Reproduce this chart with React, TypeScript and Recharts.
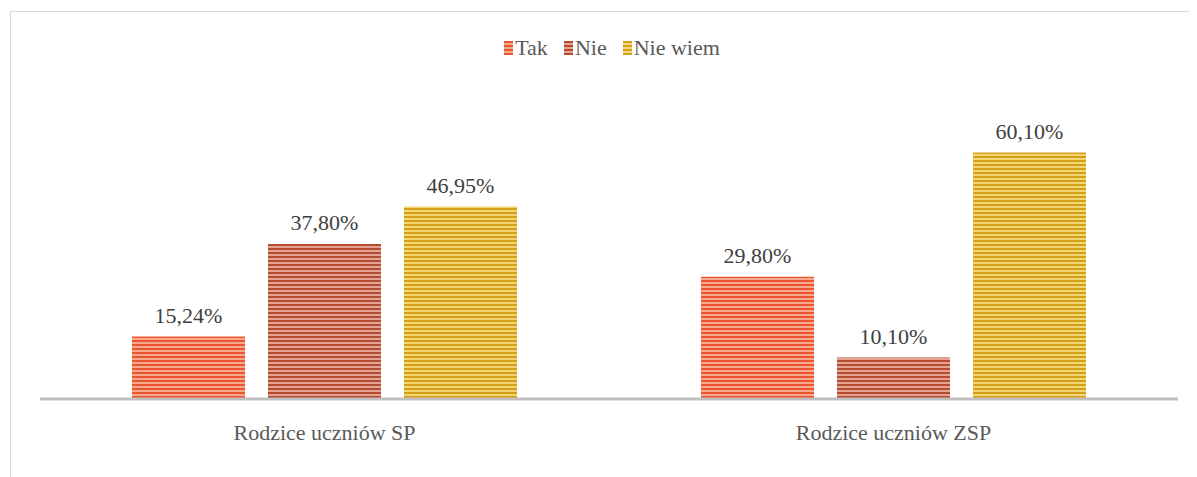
import { Bar, BarChart, LabelList, XAxis, YAxis } from "recharts";

const groups = ["Rodzice uczniów SP", "Rodzice uczniów ZSP"];
const tak = [15.24, 29.8];
const nie = [37.8, 10.1];
const nieWiem = [46.95, 60.1];

const seriesNames = ["Tak", "Nie", "Nie wiem"];

// dark / light stripe colour for each series
const stripes = [
  { id: "pTak", dark: "#ea5530", light: "#f7a88d" },
  { id: "pNie", dark: "#b44a30", light: "#e2a390" },
  { id: "pNieWiem", dark: "#d4a017", light: "#f2d676" },
];

const FONT = "Liberation Serif, DejaVu Serif, Tinos, Times New Roman, serif";
const FS = 22;

const data = groups.map((g, i) => ({
  name: g,
  tak: tak[i],
  nie: nie[i],
  nieWiem: nieWiem[i],
}));

const fmt = (v: unknown) => `${Number(v).toFixed(2).replace(".", ",")}%`;

function LegendBox() {
  return (
    <div
      style={{
        position: "absolute",
        top: 26,
        left: 0,
        width: 1208,
        display: "flex",
        justifyContent: "center",
        gap: 16,
        fontFamily: FONT,
        fontSize: FS,
        color: "#595959",
        lineHeight: "28px",
      }}
    >
      {seriesNames.map((n, i) => (
        <span key={n} style={{ display: "flex", alignItems: "center" }}>
          <span
            style={{
              display: "inline-block",
              width: 9,
              height: 14,
              marginRight: 2,
              background: `repeating-linear-gradient(180deg, ${stripes[i].dark} 0 2px, ${stripes[i].light} 2px 4px)`,
            }}
          />
          {n}
        </span>
      ))}
    </div>
  );
}

const labelStyle = { fontFamily: FONT, fontSize: FS, fill: "#404040" };

export default function App() {
  return (
    <div style={{ position: "relative", width: 1189, height: 469, overflow: "hidden", fontFamily: FONT }}>
      <div
        style={{
          position: "absolute",
          left: 2,
          top: 3,
          width: 1220,
          height: 500,
          border: "1px solid #d9d9d9",
          boxSizing: "border-box",
        }}
      />
      <LegendBox />
      <div style={{ position: "absolute", left: 0, top: 0 }}>
        <BarChart
          width={1189}
          height={469}
          data={data}
          margin={{ top: 104, right: 19, bottom: 38, left: 32 }}
          barSize={113}
          barGap={23}
        >
          <defs>
            {stripes.map((s) => (
              <pattern key={s.id} id={s.id} width={8} height={4} patternUnits="userSpaceOnUse">
                <rect width={8} height={4} fill={s.light} />
                <rect width={8} height={2} fill={s.dark} />
              </pattern>
            ))}
          </defs>
          <YAxis hide domain={[0, 70]} />
          <XAxis
            dataKey="name"
            height={40}
            axisLine={{ stroke: "#bfbfbf", strokeWidth: 3 }}
            tickLine={false}
            tickMargin={19}
            tick={{ fontFamily: FONT, fontSize: FS, fill: "#595959" }}
          />
          <Bar dataKey="tak" fill="url(#pTak)" isAnimationActive={false}>
            <LabelList dataKey="tak" position="top" offset={14} formatter={fmt} style={labelStyle} />
          </Bar>
          <Bar dataKey="nie" fill="url(#pNie)" isAnimationActive={false}>
            <LabelList dataKey="nie" position="top" offset={14} formatter={fmt} style={labelStyle} />
          </Bar>
          <Bar dataKey="nieWiem" fill="url(#pNieWiem)" isAnimationActive={false}>
            <LabelList dataKey="nieWiem" position="top" offset={14} formatter={fmt} style={labelStyle} />
          </Bar>
        </BarChart>
      </div>
    </div>
  );
}
